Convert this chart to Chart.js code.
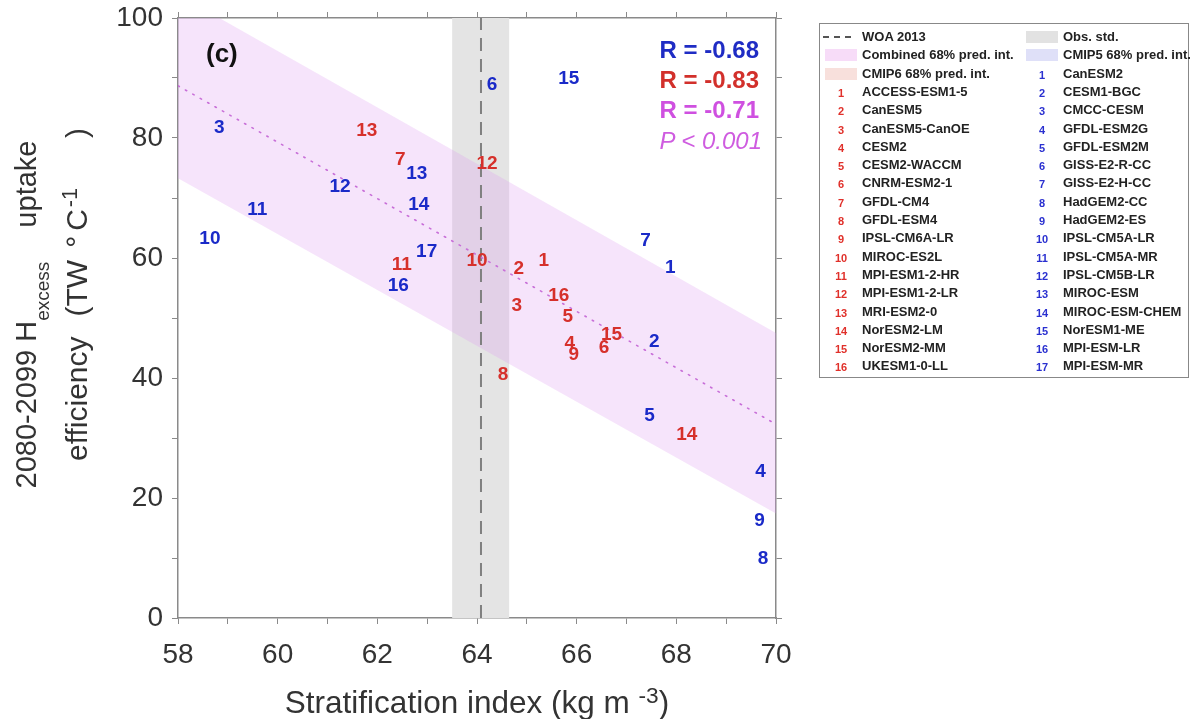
<!DOCTYPE html>
<html>
<head>
<meta charset="utf-8">
<script src="https://cdn.jsdelivr.net/npm/chart.js@4.4.0/dist/chart.umd.min.js"></script>
<style>
  body { margin: 0; background: #fff; overflow: hidden; font-family: "Liberation Sans", Arial, Helvetica, sans-serif; }
  #wrap { position: relative; width: 1195px; height: 719px; }
  #chart { position: absolute; left: 0; top: 0; }
  .abs { position: absolute; white-space: nowrap; }
  .stat { right: 436px; font-size: 24px; font-weight: bold; line-height: 30px; text-align: right; }
  .yline { width: 420px; height: 51px; line-height: 51px; color: #333; text-align: center;
           transform: rotate(-90deg); transform-origin: 50% 50%; }
  .yline span { display: inline-block; }
  #xtitle { left: 177px; width: 600px; top: 682px; line-height: 40px; font-size: 31.5px; color: #333; text-align: center; }
  .sub { position: relative; top: 13px; font-size: 19px; }
  .sup { position: relative; top: -0.45em; font-size: 0.72em; }
  #legend { left: 819px; top: 23px; width: 370px; height: 355px; border: 1.5px solid #888; box-sizing: border-box; }
  .lrow { position: absolute; height: 18px; line-height: 18px; font-size: 13px; font-weight: bold; color: #222; }
  .lnum { position: absolute; width: 24px; text-align: center; font-size: 11px; font-weight: bold; }
  .lpatch { position: absolute; width: 32px; height: 12px; }
</style>
</head>
<body>
<div id="wrap">
  <canvas id="chart" width="1195" height="719"></canvas>
  <div class="abs" style="left:206px;top:38px;font-size:26px;font-weight:bold;line-height:30px;color:#111;">(c)</div>
  <div class="abs stat" style="top:35px;color:#1f2cc4;">R = -0.68</div>
  <div class="abs stat" style="top:65px;color:#d2302b;">R = -0.83</div>
  <div class="abs stat" style="top:95px;color:#cf50e0;">R = -0.71</div>
  <div class="abs stat" style="top:126px;color:#cf5ce0;font-weight:normal;font-style:italic;right:433px;">P &lt; 0.001</div>
  <div class="abs yline" style="left:-184.5px;top:288.5px;font-size:29px;">2080-2099 H<span class="sub">excess</span><span style="margin-left:34px;">uptake</span></div>
  <div class="abs yline" style="left:-133.9px;top:268.5px;font-size:30px;"><span>efficiency</span><span style="margin-left:20px;">(TW</span><span style="margin-left:12px;">°</span><span style="margin-left:5px;">C</span><span class="sup" style="margin-left:2px;">-1</span><span style="margin-left:50px;">)</span></div>
  <div id="xtitle" class="abs">Stratification index (kg m <span class="sup">-3</span>)</div>
  <div id="legend" class="abs"></div>
</div>
<script>
// CMIP6 models (red numbers)
const cmip6Models = ['ACCESS-ESM1-5', 'CanESM5', 'CanESM5-CanOE', 'CESM2', 'CESM2-WACCM', 'CNRM-ESM2-1',
  'GFDL-CM4', 'GFDL-ESM4', 'IPSL-CM6A-LR', 'MIROC-ES2L', 'MPI-ESM1-2-HR', 'MPI-ESM1-2-LR',
  'MRI-ESM2-0', 'NorESM2-LM', 'NorESM2-MM', 'UKESM1-0-LL'];
const cmip6X = [65.34, 64.84, 64.80, 65.86, 65.82, 66.55, 62.46, 64.52, 65.94, 64.00, 62.49, 64.20, 61.79, 68.21, 66.70, 65.64];
const cmip6Y = [59.7, 58.4, 52.2, 45.8, 50.3, 45.2, 76.6, 40.7, 44.0, 59.7, 59.1, 75.8, 81.4, 30.7, 47.3, 53.8];

// CMIP5 models (blue numbers)
const cmip5Models = ['CanESM2', 'CESM1-BGC', 'CMCC-CESM', 'GFDL-ESM2G', 'GFDL-ESM2M', 'GISS-E2-R-CC',
  'GISS-E2-H-CC', 'HadGEM2-CC', 'HadGEM2-ES', 'IPSL-CM5A-LR', 'IPSL-CM5A-MR', 'IPSL-CM5B-LR',
  'MIROC-ESM', 'MIROC-ESM-CHEM', 'NorESM1-ME', 'MPI-ESM-LR', 'MPI-ESM-MR'];
const cmip5X = [67.88, 67.56, 58.83, 69.69, 67.46, 64.30, 67.38, 69.74, 69.67, 58.64, 59.59, 61.25, 62.79, 62.83, 65.84, 62.42, 62.99];
const cmip5Y = [58.6, 46.2, 81.9, 24.6, 33.8, 89.0, 63.1, 10.1, 16.4, 63.4, 68.2, 72.0, 74.2, 69.1, 90.1, 55.6, 61.2];

// combined fit and 68% prediction interval
const fitX = [58, 70];
const fitY = [88.7, 32.3];
const bandUpper = [103.9, 47.5];
const bandLower = [73.3, 17.4];

// observations
const woaIndex = 64.08;
const obsStd = [63.5, 64.65];

// axes
const xRange = [58, 70];
const yRange = [0, 100];

const RED = '#d6302b';
const BLUE = '#1a2ac8';

const pts = (xs, ys) => xs.map((x, i) => ({ x: x, y: ys[i] }));

//---------------------------------------------------------------------------
// draws the model numbers at each point position
const numberLabels = {
  id: 'numberLabels',
  afterDatasetsDraw(chart) {
    const ctx = chart.ctx;
    ctx.save();
    ctx.font = 'bold 19px "Liberation Sans", Arial, sans-serif';
    ctx.textAlign = 'center';
    ctx.textBaseline = 'middle';
    chart.data.datasets.forEach((ds, i) => {
      if (!ds.numbered) return;
      ctx.fillStyle = ds.textColor;
      chart.getDatasetMeta(i).data.forEach((el, j) => {
        ctx.fillText(String(j + 1), el.x, el.y + 1);
      });
    });
    ctx.restore();
  }
};

Chart.defaults.font.family = '"Liberation Sans", Arial, Helvetica, sans-serif';

const axisGrid = { drawOnChartArea: false, tickLength: 6, color: '#8a8a8a', lineWidth: 1 };
const axisBorder = { color: '#8a8a8a', width: 1.5 };

new Chart(document.getElementById('chart'), {
  type: 'scatter',
  data: {
    datasets: [
      {
        // obs std shading
        type: 'line', data: [{ x: obsStd[0], y: yRange[1] }, { x: obsStd[1], y: yRange[1] }],
        fill: 'origin', backgroundColor: '#e4e4e4', borderWidth: 0, pointRadius: 0, order: 6
      },
      {
        // combined 68% prediction interval (upper edge, filled to next)
        type: 'line', data: pts(fitX, bandUpper), fill: '+1',
        backgroundColor: 'rgba(222,150,238,0.26)', borderWidth: 0, pointRadius: 0, order: 5
      },
      {
        type: 'line', data: pts(fitX, bandLower), fill: false,
        borderWidth: 0, pointRadius: 0, order: 5
      },
      {
        // WOA 2013
        type: 'line', data: [{ x: woaIndex, y: yRange[0] }, { x: woaIndex, y: yRange[1] }],
        borderColor: '#808080', borderWidth: 2, borderDash: [13, 8], pointRadius: 0, fill: false, order: 4
      },
      {
        // regression
        type: 'line', data: pts(fitX, fitY), borderColor: '#c86fd8', borderWidth: 1.6,
        borderDash: [1.5, 7], borderCapStyle: 'round', pointRadius: 0, fill: false, order: 3
      },
      { label: 'CMIP5', data: pts(cmip5X, cmip5Y), pointRadius: 0, numbered: true, textColor: BLUE, order: 2 },
      { label: 'CMIP6', data: pts(cmip6X, cmip6Y), pointRadius: 0, numbered: true, textColor: RED, order: 1 }
    ]
  },
  options: {
    responsive: false,
    animation: false,
    events: [],
    layout: { padding: { left: 0, right: 409, top: 8, bottom: 41 } },
    plugins: { legend: { display: false }, tooltip: { enabled: false } },
    scales: {
      x: {
        type: 'linear', position: 'bottom', min: xRange[0], max: xRange[1],
        ticks: { stepSize: 1, autoSkip: false, maxRotation: 0, padding: 14, color: '#333', font: { size: 28 },
                 callback: v => (v % 2 === 0 ? v : '') },
        grid: axisGrid, border: axisBorder,
        afterFit: s => { s.height = 60; s.paddingLeft = 0; s.paddingRight = 0; }
      },
      x2: {
        type: 'linear', position: 'top', min: xRange[0], max: xRange[1],
        ticks: { stepSize: 1, display: false }, grid: axisGrid, border: axisBorder,
        afterFit: s => { s.height = 10; s.paddingLeft = 0; s.paddingRight = 0; }
      },
      y: {
        type: 'linear', position: 'left', min: yRange[0], max: yRange[1],
        ticks: { stepSize: 10, autoSkip: false, padding: 9, color: '#333', font: { size: 28 },
                 callback: v => (v % 20 === 0 ? v : '') },
        grid: axisGrid, border: axisBorder,
        afterFit: s => { s.width = 178; s.paddingTop = 0; s.paddingBottom = 0; }
      },
      y2: {
        type: 'linear', position: 'right', min: yRange[0], max: yRange[1],
        ticks: { stepSize: 10, display: false }, grid: axisGrid, border: axisBorder,
        afterFit: s => { s.width = 10; s.paddingTop = 0; s.paddingBottom = 0; }
      }
    }
  },
  plugins: [numberLabels]
});

//---------------------------------------------------------------------------
// legend, two columns
const legend = document.getElementById('legend');
const rowTop = i => 36 - 23 - 9 + i * 18.3;

function addRow(col, i, sym, text) {
  const baseX = col === 0 ? 0 : 201;
  const row = document.createElement('div');
  row.className = 'lrow';
  row.style.left = (baseX + 42) + 'px';
  row.style.top = rowTop(i) + 'px';
  row.textContent = text;
  legend.appendChild(row);
  if (sym.kind === 'num') {
    const n = document.createElement('div');
    n.className = 'lnum';
    n.style.left = (baseX + 9) + 'px';
    n.style.top = (rowTop(i) + 3) + 'px';
    n.style.lineHeight = '14px';
    n.style.color = sym.color;
    n.textContent = sym.n;
    legend.appendChild(n);
  } else if (sym.kind === 'patch') {
    const p = document.createElement('div');
    p.className = 'lpatch';
    p.style.left = (baseX + 5) + 'px';
    p.style.top = (rowTop(i) + 3) + 'px';
    p.style.background = sym.color;
    legend.appendChild(p);
  } else if (sym.kind === 'dash') {
    const d = document.createElement('div');
    d.className = 'lpatch';
    d.style.left = (baseX + 3) + 'px';
    d.style.top = (rowTop(i) + 8) + 'px';
    d.style.height = '0px';
    d.style.width = '28px';
    d.style.borderTop = '2px dashed #555';
    legend.appendChild(d);
  }
}

addRow(0, 0, { kind: 'dash' }, 'WOA 2013');
addRow(0, 1, { kind: 'patch', color: '#f7dcf8' }, 'Combined 68% pred. int.');
addRow(0, 2, { kind: 'patch', color: '#f8e0dc' }, 'CMIP6 68% pred. int.');
cmip6Models.forEach((m, i) => addRow(0, i + 3, { kind: 'num', n: i + 1, color: '#e0302a' }, m));

addRow(1, 0, { kind: 'patch', color: '#e2e2e2' }, 'Obs. std.');
addRow(1, 1, { kind: 'patch', color: '#dfe0f8' }, 'CMIP5 68% pred. int.');
cmip5Models.forEach((m, i) => addRow(1, i + 2, { kind: 'num', n: i + 1, color: '#2a30d0' }, m));
</script>
</body>
</html>
